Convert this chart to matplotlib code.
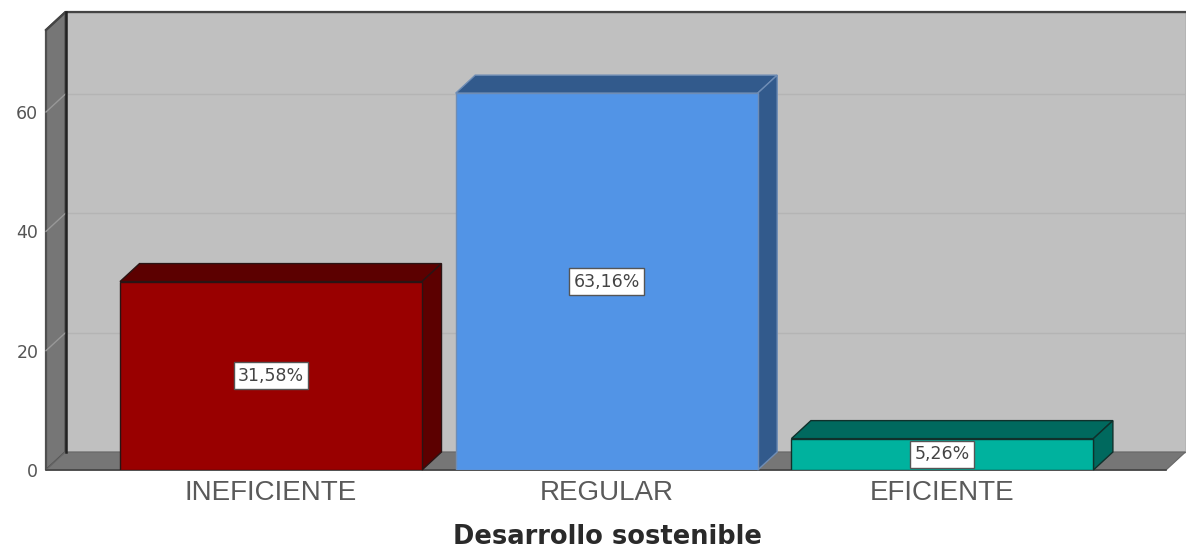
import matplotlib
matplotlib.use("Agg")
import matplotlib.pyplot as plt
from matplotlib.patches import Polygon

categories = ["INEFICIENTE", "REGULAR", "EFICIENTE"]
values = [31.58, 63.16, 5.26]
labels = ["31,58%", "63,16%", "5,26%"]
yticks = [0, 20, 40, 60]
face = ["#990000", "#5294E6", "#00B29E"]
dark = ["#5C0000", "#325A8C", "#00695E"]
edges = ["#2a1414", "#6f8db5", "#10302b"]
xlabel = "Desarrollo sostenible"

W, H = 1186, 548
plt.rcParams["font.family"] = ["Liberation Sans", "DejaVu Sans"]
fig = plt.figure(figsize=(W / 100, H / 100), dpi=100)

# Front plane of the 3D box in pixels
L, R, B, T = 46, 1166, 470, 30
ax = fig.add_axes([L / W, 1 - B / H, (R - L) / W, (B - T) / H])
sx = 335.7          # px per category
sy = 358 / 60       # px per unit
ax.set_xlim((L - 271) / sx, (R - 271) / sx)
ax.set_ylim(0, (B - T) / sy)
dx = 19.5 / sx      # depth in data units
dy = 18 / sy
ymax = (B - T) / sy
x0, x1 = ax.get_xlim()

def poly(pts, fc, ec="#2a2a2a", lw=1.0, z=1):
    ax.add_patch(Polygon(pts, closed=True, fc=fc, ec=ec, lw=lw, zorder=z, clip_on=False))

# Back wall, side wall, floor
poly([(x0 + dx, dy), (x1 + dx, dy), (x1 + dx, ymax + dy), (x0 + dx, ymax + dy)], "#C0C0C0", ec="#8a8a8a", lw=1.0)
poly([(x0, 0), (x0 + dx, dy), (x0 + dx, ymax + dy), (x0, ymax)], "#767676", ec="#505050", lw=1.6, z=2)
poly([(x0, 0), (x1, 0), (x1 + dx, dy), (x0 + dx, dy)], "#767676", ec="#666666", lw=0.8, z=2)
ax.plot([x0, x0 + dx, x1 + dx], [ymax, ymax + dy, ymax + dy], color="#444444", lw=1.6, zorder=3, clip_on=False)
ax.plot([x0, x1], [0, 0], color="#444444", lw=1.2, zorder=3, clip_on=False)
ax.plot([x0 + dx, x0 + dx], [dy, ymax + dy], color="#222222", lw=1.8, zorder=3, clip_on=False)

# Gridlines on the wall and side
for t in yticks[1:]:
    ax.plot([x0 + dx, x1 + dx], [t + dy, t + dy], color="#B4B4B4", lw=1.0, zorder=2.5, clip_on=False)
    ax.plot([x0, x0 + dx], [t, t + dy], color="#989898", lw=1.0, zorder=2.5, clip_on=False)

# Bars
w = 302 / sx
for i, v in enumerate(values):
    l, r = i - w / 2, i + w / 2
    poly([(l, v), (r, v), (r + dx, v + dy), (l + dx, v + dy)], dark[i], ec=edges[i], lw=1.0, z=4)
    poly([(r, 0), (r + dx, dy), (r + dx, v + dy), (r, v)], dark[i], ec=edges[i], lw=1.0, z=4)
    ax.bar(i, v, width=w, color=face[i], edgecolor=edges[i], linewidth=1.0, zorder=5)
    ax.text(i, v / 2, labels[i], ha="center", va="center", fontsize=12.5, color="#444444", zorder=6,
            family="DejaVu Sans",
            bbox=dict(boxstyle="square,pad=0.25", fc="white", ec="#555555", lw=1.0))

for s in ax.spines.values():
    s.set_visible(False)
ax.patch.set_visible(False)
ax.set_yticks(yticks)
ax.set_xticks(range(len(categories)), categories)
ax.tick_params(axis="y", length=0, pad=5.5, labelcolor="#555555")
for t in ax.get_yticklabels():
    t.set_family("DejaVu Sans")
    t.set_fontsize(12.5)
ax.tick_params(axis="x", length=0, pad=7, labelsize=20, labelcolor="#5a5a5a")
fig.text(607 / W, 1 - 537 / H, xlabel, ha="center", va="center", fontsize=18.5, fontweight="bold",
         color="#2a2a2a", family="DejaVu Sans")

fig.savefig("out.png", dpi=100, facecolor="white")
